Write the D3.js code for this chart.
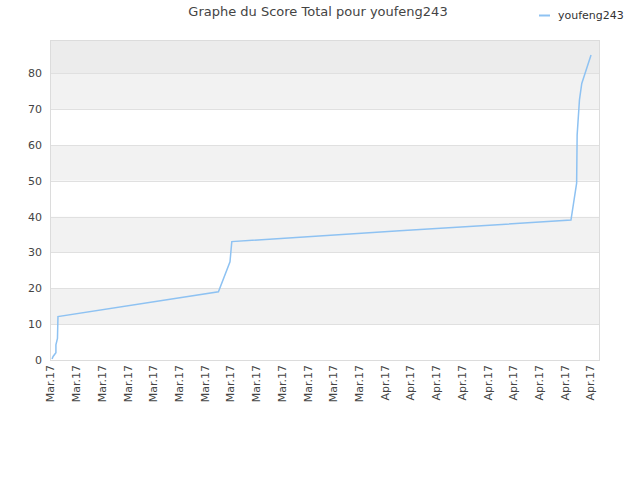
<!DOCTYPE html>
<html>
<head>
<meta charset="utf-8">
<script src="https://d3js.org/d3.v7.min.js"></script>
<style>
  body { margin: 0; background: #fff; }
  text { font-family: "DejaVu Sans", sans-serif; }
</style>
</head>
<body>
<svg width="640" height="480" id="chart"></svg>
<script>
  // tick labels along the x axis (one per tick)
  var tickLabels = ["Mar.17","Mar.17","Mar.17","Mar.17","Mar.17","Mar.17","Mar.17",
    "Mar.17","Mar.17","Mar.17","Mar.17","Mar.17","Mar.17",
    "Apr.17","Apr.17","Apr.17","Apr.17","Apr.17","Apr.17","Apr.17","Apr.17","Apr.17"];
  // score points, x given in tick units
  var pointPos = [0.08, 0.12, 0.23, 0.23, 0.29, 0.31, 6.55, 7.0, 7.07, 13.6, 20.26, 20.48, 20.5, 20.59, 20.68, 21.04];
  var scores   = [0.3, 1.0, 2.0, 4.2, 6.0, 12.1, 19.0, 27.4, 33.0, 36.0, 39.0, 49.3, 62.7, 72.5, 77.1, 85.0];
  var yTicks = [0, 10, 20, 30, 40, 50, 60, 70, 80];
  var seriesName = "youfeng243";

  var plotLeft = 50, plotRight = 600, plotTop = 40, plotBottom = 360;
  var svg = d3.select("#chart");

  var x = d3.scaleLinear().domain([0, tickLabels.length - 1]).range([plotLeft, 590]);
  var y = d3.scaleLinear().domain([0, 89.2]).range([plotBottom, plotTop]);

  // background bands
  var bands = yTicks.map(function(t, i) { return [t, i + 1 < yTicks.length ? yTicks[i + 1] : 89.2]; });
  svg.append("g").selectAll("rect")
    .data(bands)
    .enter()
    .append("rect")
    .attr("x", plotLeft)
    .attr("width", plotRight - plotLeft)
    .attr("y", d => y(d[1]))
    .attr("height", d => y(d[0]) - y(d[1]))
    .attr("fill", (d, i) => i == bands.length - 1 ? "#ececec" : (i % 2 ? "#f2f2f2" : "#ffffff"));

  // grid lines
  svg.append("g").selectAll("line")
    .data(yTicks)
    .enter()
    .append("line")
    .attr("x1", plotLeft).attr("x2", plotRight)
    .attr("y1", d => Math.round(y(d)) + 0.5).attr("y2", d => Math.round(y(d)) + 0.5)
    .attr("stroke", "#e0e0e0");

  // frame
  svg.append("rect")
    .attr("x", plotLeft + 0.5).attr("y", plotTop + 0.5)
    .attr("width", plotRight - plotLeft - 1).attr("height", plotBottom - plotTop)
    .attr("fill", "none")
    .attr("stroke", "#dcdcdc");

  // y axis labels
  var yAxis = d3.axisLeft(y).tickValues(yTicks).tickSize(0).tickPadding(8);
  var gy = svg.append("g").attr("transform", "translate(" + plotLeft + ",0)").call(yAxis);
  gy.select(".domain").remove();
  gy.selectAll("text").attr("fill", "#444").style("font-size", "11px").style("font-family", "DejaVu Sans");

  // x axis labels
  var xAxis = d3.axisBottom(x).tickValues(d3.range(tickLabels.length))
    .tickFormat(i => tickLabels[i]).tickSize(0);
  var gx = svg.append("g").attr("transform", "translate(0," + plotBottom + ")").call(xAxis);
  gx.select(".domain").remove();
  gx.selectAll("text")
    .attr("fill", "#444")
    .style("font-size", "11px").style("font-family", "DejaVu Sans")
    .attr("transform", "rotate(-90)")
    .attr("text-anchor", "end")
    .attr("x", -5)
    .attr("y", 0)
    .attr("dy", "0.35em");

  // score line
  var line = d3.line().x((d, i) => x(pointPos[i])).y(d => y(d));
  svg.append("path")
    .datum(scores)
    .attr("d", line)
    .attr("fill", "none")
    .attr("stroke", "#8ec2f2")
    .attr("stroke-width", 1.5);

  // title
  svg.append("text")
    .text("Graphe du Score Total pour " + seriesName)
    .attr("x", 318).attr("y", 16)
    .attr("text-anchor", "middle")
    .attr("fill", "#444")
    .style("font-size", "13px");

  // legend
  svg.append("line")
    .attr("x1", 539).attr("x2", 550).attr("y1", 15.5).attr("y2", 15.5)
    .attr("stroke", "#8ec2f2").attr("stroke-width", 2);
  svg.append("text")
    .text(seriesName)
    .attr("x", 558).attr("y", 19)
    .attr("fill", "#333")
    .style("font-size", "11px");
</script>
</body>
</html>
